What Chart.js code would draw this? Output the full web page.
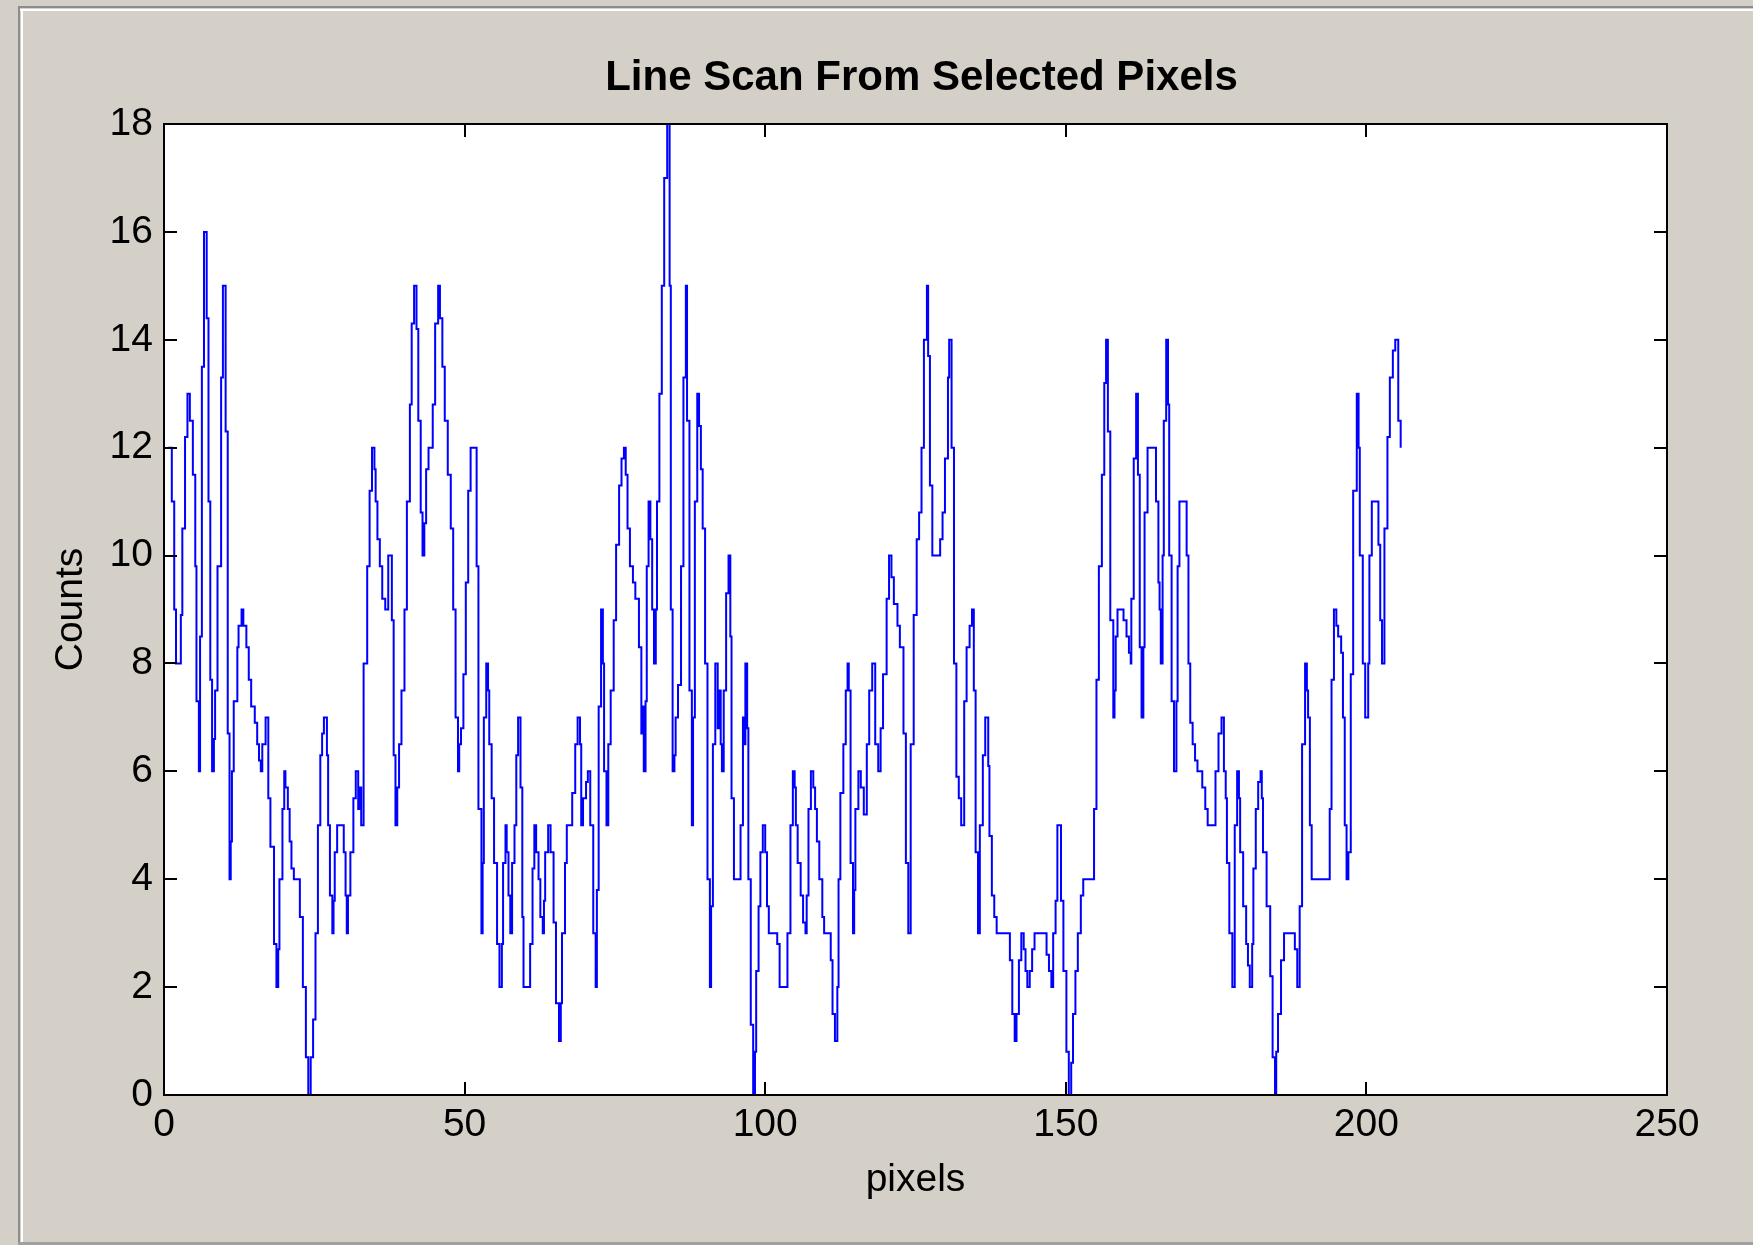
<!DOCTYPE html>
<html>
<head>
<meta charset="utf-8">
<script src="https://cdn.jsdelivr.net/npm/chart.js@4/dist/chart.umd.min.js"></script>
<style>
html,body{margin:0;padding:0;background:#d4d0c8;overflow:hidden}
canvas{display:block}
</style>
</head>
<body>
<canvas id="c" width="1753" height="1245"></canvas>
<script>
const chartTitle = 'Line Scan From Selected Pixels';
const xAxisLabel = 'pixels';
const yAxisLabel = 'Counts';
const xTickValues = [0, 50, 100, 150, 200, 250];
const yTickValues = [0, 2, 4, 6, 8, 10, 12, 14, 16, 18];

// [pixel position where the level starts, counts], piece by piece
const scanSeg1 = [[0.7,12],[1.3,11],[1.7,9],[2.0,8],[2.8,8.9],[3.05,10.5],[3.5,12.2],[3.9,13],[4.3,12.5],[4.8,11.5],[5.2,9.8],[5.4,7.3],[5.8,6],[6.0,8.5],[6.3,13.5],[6.65,16],[7.1,14.4],[7.4,11],[7.7,7.7],[8.0,6],[8.3,6.6],[8.5,7.5],[8.9,9.8],[9.5,13.3],[9.8,15],[10.25,12.3],[10.6,6.7],[10.9,4],[11.1,4.7],[11.3,6],[11.6,7.3],[12.2,8.3],[12.4,8.7],[12.9,9],[13.2,8.7],[13.7,8.3],[14.1,7.7],[14.5,7.2],[15.1,6.9],[15.5,6.5],[15.8,6.2],[16.1,6],[16.35,6.5],[16.9,7],[17.35,5.5],[17.7,4.6],[18.3,2.8],[18.7,2],[19.0,2.7],[19.2,4],[19.7,5.3],[20.0,6],[20.2,5.7],[20.6,5.3],[20.9,4.7],[21.2,4.2],[21.6,4],[22.6,3.3],[23.1,2],[23.6,0.7],[24.0,0],[24.4,0.7],[24.8,1.4],[25.2,3],[25.6,5],[26.0,6.3],[26.3,6.7],[26.6,7]];
const scanSeg2 = [[27.1,6.3],[27.3,5.0],[27.6,3.7],[28.0,3.0],[28.2,3.6],[28.4,4.5],[28.8,5.0],[29.9,4.5],[30.2,3.7],[30.4,3.0],[30.6,3.7],[31.0,4.5],[31.5,5.5],[31.9,6.0],[32.3,5.3],[32.5,5.7],[32.8,5.0],[33.2,8.0],[33.8,9.8],[34.2,11.2],[34.6,12.0],[35.0,11.6],[35.2,11.0],[35.5,10.3],[35.9,9.8],[36.3,9.2],[36.8,9.0],[37.3,10.0],[37.9,8.8],[38.2,6.3],[38.5,5.0],[38.8,5.7],[39.1,6.5],[39.5,7.5],[40.0,9.0],[40.4,11.0],[40.9,12.8],[41.2,14.3],[41.6,15.0],[42.0,14.2],[42.3,12.5],[42.7,10.8],[43.0,10.0],[43.3,10.6],[43.6,11.6],[44.0,12.0],[44.7,12.8],[45.1,14.3],[45.6,15.0],[45.9,14.4],[46.3,13.5],[46.7,12.5],[47.2,11.5],[47.7,10.5],[48.1,9.0],[48.5,7.0],[48.9,6.0],[49.1,6.5],[49.4,6.8],[49.8,7.8],[50.2,9.5],[50.6,11.2],[51.0,12.0],[52.0,9.8],[52.3,5.3]];
const scanSeg3 = [[52.8,3.0],[53.0,4.3],[53.2,7.0],[53.6,8.0],[53.9,7.5],[54.1,6.5],[54.5,5.5],[54.9,4.3],[55.4,2.8],[55.8,2.0],[56.2,2.8],[56.4,4.3],[56.8,5.0],[57.0,4.5],[57.3,3.7],[57.6,3.0],[57.9,4.3],[58.3,5.0],[58.6,6.3],[58.9,7.0],[59.3,5.7],[59.6,3.3],[59.8,2.0],[60.9,2.8],[61.3,4.2],[61.6,5.0],[61.9,4.5],[62.3,4.0],[62.6,3.3],[63.0,3.0],[63.2,3.6],[63.4,4.5],[63.9,5.0],[64.3,4.5],[64.8,3.2],[65.2,1.7],[65.7,1.0],[66.0,1.7],[66.2,3.0],[66.7,4.3],[67.0,5.0],[67.9,5.6],[68.4,6.5],[68.8,7.0],[69.2,6.5],[69.4,5.0],[69.7,5.5],[70.2,5.8],[70.5,6.0],[70.9,5.0],[71.4,3.0],[71.8,2.0],[72.0,3.8],[72.3,7.2],[72.7,9.0],[73.0,8.0],[73.2,6.0],[73.6,5.0],[73.9,6.5],[74.3,7.5],[74.8,8.8],[75.2,10.2],[75.7,11.3],[76.1,11.8],[76.5,12.0],[76.8,11.5],[77.1,10.5],[77.5,9.8]];
const scanSeg4 = [[78.0,9.5],[78.4,9.2],[79.0,8.3],[79.4,6.7],[79.6,7.2],[79.8,6.0],[80.1,7.3],[80.3,9.8],[80.6,11.0],[80.9,10.3],[81.2,9.0],[81.5,8.0],[81.8,9.0],[82.0,11.0],[82.4,13.0],[82.8,15.0],[83.2,17.0],[83.7,18.0],[84.1,15.0],[84.3,9.0],[84.6,6.0],[84.9,6.3],[85.1,7.0],[85.5,7.6],[86.0,9.8],[86.4,13.3],[86.8,15.0],[87.0,12.5],[87.4,7.5],[87.8,5.0],[88.0,7.0],[88.3,11.0],[88.7,13.0],[89.0,12.4],[89.3,11.6],[89.6,10.5],[90.0,8.0],[90.4,4.0],[90.8,2.0],[91.0,3.5],[91.3,6.5],[91.7,8.0],[92.1,6.8],[92.3,7.5],[92.6,6.5],[92.8,6.0],[93.1,7.5],[93.5,9.3],[93.9,10.0],[94.2,8.5],[94.4,5.5],[94.8,4.0],[95.9,5.0],[96.3,7.0],[96.5,6.5],[96.7,8.0],[97.0,6.8],[97.2,4.0],[97.6,1.3],[98.0,0.0],[98.3,0.8],[98.5,2.3],[98.9,3.5],[99.2,4.5],[99.6,5.0],[100.0,4.5],[100.3,3.5],[100.6,3.0],[102.0,2.8],[102.4,2.0],[103.7,3.0]];
const scanSeg5 = [[104.2,5.0],[104.6,6.0],[104.9,5.7],[105.1,5.0],[105.4,4.3],[105.9,3.7],[106.3,3.2],[106.7,3.0],[106.9,3.7],[107.2,5.3],[107.6,6.0],[108.0,5.7],[108.3,5.3],[108.6,4.7],[109.0,4.0],[109.5,3.3],[109.8,3.0],[110.9,2.5],[111.2,1.5],[111.6,1.0],[112.0,2.0],[112.2,4.0],[112.5,5.6],[113.0,6.5],[113.4,7.5],[113.7,8.0],[113.9,7.5],[114.2,4.3],[114.6,3.0],[114.8,3.8],[115.0,5.3],[115.5,6.0],[115.9,5.7],[116.4,5.2],[116.9,6.5],[117.3,7.5],[117.8,8.0],[118.3,6.5],[118.8,6.0],[119.2,6.8],[119.6,7.8],[120.2,9.2],[120.6,10.0],[121.0,9.6],[121.4,9.1],[122.0,8.7],[122.4,8.3],[123.0,6.7],[123.4,4.3],[123.8,3.0],[124.2,6.5],[124.7,8.9],[125.2,10.3],[125.6,10.8],[126.0,12.0],[126.4,14.0],[126.9,15.0],[127.1,13.7],[127.4,11.3],[127.8,10.0]];
const scanSeg6 = [[129.1,10.3],[129.5,10.8],[129.9,11.8],[130.4,13.3],[130.6,14.0],[131.0,12.0],[131.4,8.0],[131.8,5.9],[132.2,5.5],[132.6,5.0],[133.1,7.3],[133.5,8.3],[134.0,8.7],[134.4,9.0],[134.7,7.5],[135.0,4.5],[135.4,3.0],[135.7,5.0],[136.2,6.3],[136.6,7.0],[137.1,6.1],[137.3,4.8],[137.7,3.7],[138.1,3.3],[138.5,3.0],[140.7,2.5],[141.1,1.5],[141.5,1.0],[141.8,1.5],[142.2,2.5],[142.6,3.0],[143.0,2.7],[143.3,2.3],[143.6,2.0],[144.0,2.3],[144.4,2.7],[144.8,3.0],[146.8,2.6],[147.2,2.3],[147.6,2.0],[147.9,3.0],[148.3,3.6],[148.6,5.0],[149.2,3.6],[149.6,2.3],[150.1,0.8],[150.5,0.0],[150.9,0.6],[151.2,1.5],[151.6,2.3],[152.0,3.0],[152.5,3.7],[152.9,4.0],[154.7,5.3]];
const scanSeg7 = [[155.1,7.7],[155.5,9.8],[156.0,11.5],[156.4,13.2],[156.7,14.0],[157.0,12.3],[157.4,8.8],[157.9,7.0],[158.1,7.5],[158.3,8.5],[158.6,9.0],[159.6,8.8],[160.1,8.5],[160.5,8.2],[160.8,8.0],[160.9,9.2],[161.3,11.8],[161.7,13.0],[162.0,11.5],[162.3,8.3],[162.6,7.0],[162.9,8.3],[163.1,10.8],[163.6,12.0],[165.0,11.0],[165.4,9.5],[165.6,9.0],[165.8,8.0],[166.1,10.0],[166.3,12.5],[166.7,14.0],[167.0,12.8],[167.2,10.0],[167.6,7.3],[168.0,6.0],[168.4,7.3],[168.6,9.8],[168.9,11.0],[170.1,10.0],[170.4,8.0],[170.7,6.9],[171.1,6.5],[171.5,6.2],[171.9,6.0],[172.7,5.7],[173.2,5.3],[173.6,5.0],[174.9,6.0],[175.4,6.7],[175.9,7.0],[176.3,6.0],[176.6,5.5],[176.8,4.3],[177.2,3.0],[177.7,2.0],[178.1,5.0],[178.5,6.0],[178.8,5.5],[179.0,4.5],[179.5,3.5],[180.0,2.8],[180.3,2.4],[180.6,2.0]];
const scanSeg8 = [[181.0,2.8],[181.2,4.2],[181.6,5.3],[182.0,5.8],[182.4,6.0],[182.6,5.5],[182.8,4.5],[183.4,3.5],[184.0,2.2],[184.4,0.7],[184.8,0.0],[185.0,0.8],[185.3,1.5],[185.8,2.5],[186.3,3.0],[188.1,2.7],[188.5,2.0],[188.9,3.5],[189.3,6.5],[189.8,8.0],[190.1,7.5],[190.3,7.0],[190.6,5.0],[190.9,4.0],[193.9,5.3],[194.2,7.7],[194.6,9.0],[195.0,8.7],[195.3,8.5],[195.8,8.2],[196.1,7.0],[196.4,5.0],[196.7,4.0],[197.0,4.5],[197.4,7.8],[197.8,11.2],[198.4,13.0],[198.7,12.0],[198.9,10.0],[199.4,8.0],[199.8,7.0],[200.3,8.0],[200.5,10.0],[200.9,11.0],[202.0,10.2],[202.3,8.8],[202.6,8.0],[203.0,10.5],[203.5,12.2],[203.9,13.3],[204.4,13.8],[204.8,14.0],[205.3,12.5],[205.7,12.0]];

const scanPoints = [].concat(scanSeg1, scanSeg2, scanSeg3, scanSeg4, scanSeg5, scanSeg6, scanSeg7, scanSeg8)
  .map(p => ({x: p[0], y: p[1]}));

const FONT = "'Liberation Sans', Arial, Helvetica, sans-serif";

const matlabFrame = {
  id: 'matlabFrame',
  beforeDraw(chart) {
    const {ctx, width, height, chartArea: a} = chart;
    ctx.save();
    ctx.fillStyle = '#d4d0c8';
    ctx.fillRect(0, 0, width, height);
    // window panel edges
    ctx.fillStyle = '#8c8c8c';
    ctx.fillRect(18, 6, width - 18, 2);
    ctx.fillRect(18, 6, 2, height - 6);
    ctx.fillStyle = '#ffffff';
    ctx.fillRect(20, 9, width - 20, 2);
    ctx.fillRect(21, 9, 2, height - 9);
    ctx.fillStyle = '#a0a0a0';
    ctx.fillRect(18, height - 3, width - 18, 3);
    // axes background
    ctx.fillStyle = '#ffffff';
    ctx.fillRect(a.left, a.top, a.right - a.left, a.bottom - a.top);
    // title
    ctx.fillStyle = '#000000';
    ctx.font = 'bold 42px ' + FONT;
    ctx.textAlign = 'center';
    ctx.textBaseline = 'middle';
    ctx.fillText(chartTitle, (a.left + a.right) / 2 + 6, 78);
    ctx.restore();
  },
  afterDatasetsDraw(chart) {
    const {ctx, chartArea: a, scales} = chart;
    const xs = scales.x, ys = scales.y;
    const tl = 13;
    ctx.save();
    ctx.strokeStyle = '#000000';
    ctx.lineWidth = 2;
    ctx.beginPath();
    xTickValues.forEach(v => {
      const px = Math.round(xs.getPixelForValue(v));
      ctx.moveTo(px, a.bottom); ctx.lineTo(px, a.bottom - tl);
      ctx.moveTo(px, a.top); ctx.lineTo(px, a.top + tl);
    });
    yTickValues.forEach(v => {
      const py = Math.round(ys.getPixelForValue(v));
      ctx.moveTo(a.left, py); ctx.lineTo(a.left + tl, py);
      ctx.moveTo(a.right, py); ctx.lineTo(a.right - tl, py);
    });
    ctx.stroke();
    ctx.strokeRect(a.left, a.top, a.right - a.left, a.bottom - a.top);
    ctx.restore();
  }
};

new Chart(document.getElementById('c'), {
  type: 'line',
  data: {
    datasets: [{
      data: scanPoints,
      borderColor: '#0000ff',
      borderWidth: 2,
      pointRadius: 0,
      stepped: 'before',
      fill: false,
      tension: 0
    }]
  },
  options: {
    responsive: false,
    animation: false,
    devicePixelRatio: 1,
    events: [],
    layout: {padding: {top: 124, right: 86, bottom: 0, left: 0}},
    plugins: {legend: {display: false}, tooltip: {enabled: false}, title: {display: false}},
    scales: {
      x: {
        type: 'linear', min: 0, max: 250,
        afterBuildTicks: s => { s.ticks = xTickValues.map(v => ({value: v})); },
        afterFit: s => { s.height = 150; },
        ticks: {font: {family: FONT, size: 39}, color: '#000', padding: 7, maxRotation: 0, autoSkip: false},
        grid: {display: false, drawTicks: false},
        border: {display: false},
        title: {display: true, text: xAxisLabel, color: '#000', font: {family: FONT, size: 39}, padding: {top: 0, bottom: 41}}
      },
      y: {
        type: 'linear', min: 0, max: 18,
        afterBuildTicks: s => { s.ticks = yTickValues.map(v => ({value: v})); },
        afterFit: s => { s.width = 164; },
        ticks: {font: {family: FONT, size: 39}, color: '#000', padding: 11},
        grid: {display: false, drawTicks: false},
        border: {display: false},
        title: {display: true, text: yAxisLabel, color: '#000', font: {family: FONT, size: 39}, padding: {top: 48, bottom: 0}}
      }
    }
  },
  plugins: [matlabFrame]
});
</script>
</body>
</html>
